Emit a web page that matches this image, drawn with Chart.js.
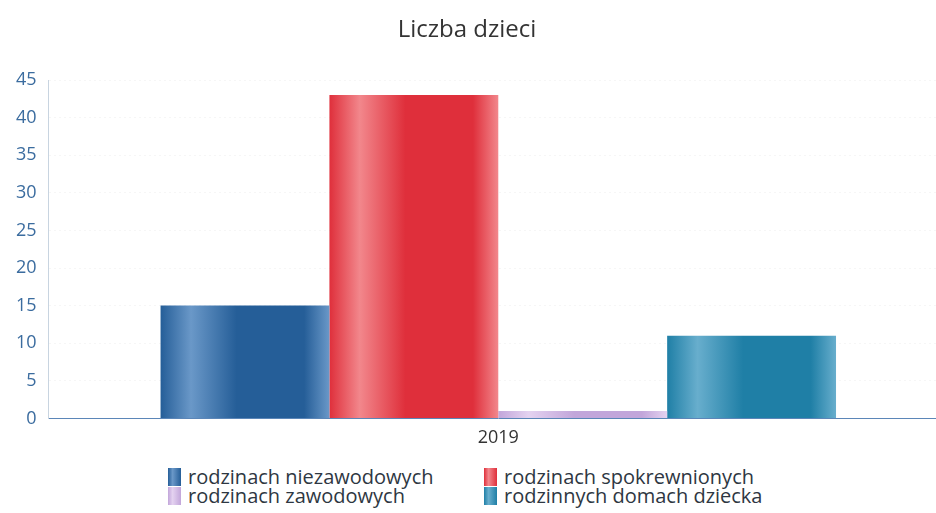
<!DOCTYPE html>
<html>
<head>
<meta charset="utf-8">
<script src="https://cdn.jsdelivr.net/npm/chart.js@4/dist/chart.umd.min.js"></script>
<style>
  body { margin: 0; background: #fff; font-family: "Open Sans", sans-serif; }
  #wrap { position: relative; width: 936px; height: 513px; overflow: hidden; }
  #chart { position: absolute; left: 0; top: 0; }
  #title {
    position: absolute; left: 367px; width: 200px; top: 11px;
    text-align: center; font-size: 24px; line-height: 34px; color: #333;
  }
  #legend {
    position: absolute; left: 168px; top: 467px;
    display: grid; grid-template-columns: 316px 300px;
    font-size: 20px; line-height: 19px; color: #2e3742;
  }
  #legend div { display: flex; align-items: center; white-space: nowrap; }
  #legend span.box { width: 13px; height: 18px; margin-right: 7px; display: inline-block; }
</style>
</head>
<body>
<div id="wrap">
  <canvas id="chart" width="948" height="452"></canvas>
  <div id="title">Liczba dzieci</div>
  <div id="legend"></div>
</div>
<script>
const categories = ["2019"];
const seriesNames = ["rodzinach niezawodowych", "rodzinach spokrewnionych", "rodzinach zawodowych", "rodzinnych domach dziecka"];
const seriesValues = [[15], [43], [1], [11]];
const seriesColors = ["#255e98", "#df2f3b", "#c2a6da", "#1f7fa6"];
const seriesLights = ["#6a98c8", "#f2878c", "#e4d2f0", "#68aecd"];
const yTicks = { min: 0, max: 45, step: 5 };

// give each bar a soft cylinder-like shading, built once positions are known
const shadePlugin = {
  id: "shade",
  beforeDatasetsDraw(chart) {
    const ctx = chart.ctx;
    chart.data.datasets.forEach((ds, i) => {
      chart.getDatasetMeta(i).data.forEach((bar) => {
        const left = bar.x - bar.width / 2;
        const g = ctx.createLinearGradient(left, 0, left + bar.width, 0);
        g.addColorStop(0, seriesColors[i]);
        g.addColorStop(0.18, seriesLights[i]);
        g.addColorStop(0.45, seriesColors[i]);
        g.addColorStop(0.85, seriesColors[i]);
        g.addColorStop(1, seriesLights[i]);
        bar.options = Object.assign({}, bar.options, { backgroundColor: g });
      });
    });
  }
};

const renderLegend = () => {
  const box = document.getElementById("legend");
  seriesNames.forEach((name, i) => {
    const el = document.createElement("div");
    el.innerHTML = `<span class="box" style="background:linear-gradient(90deg, ${seriesColors[i]}, ${seriesLights[i]} 35%, ${seriesColors[i]})"></span>${name}`;
    box.appendChild(el);
  });
};

const renderChart = () => {
  new Chart(document.getElementById("chart"), {
    type: "bar",
    data: {
      labels: categories,
      datasets: seriesNames.map((name, i) => ({
        label: name,
        data: seriesValues[i],
        backgroundColor: seriesColors[i],
        borderWidth: 0,
        barPercentage: 1,
        categoryPercentage: 0.751
      }))
    },
    options: {
      responsive: false,
      animation: false,
      layout: { padding: { left: 4, right: 0, top: 80, bottom: 2 } },
      plugins: {
        legend: { display: false },
        tooltip: { enabled: false },
        title: { display: false }
      },
      scales: {
        x: {
          grid: { display: false },
          border: { color: "#5b86b8", dash: [2, 2], width: 1 },
          ticks: { color: "#333", padding: 1, font: { family: "Open Sans", size: 18 } }
        },
        y: {
          min: yTicks.min,
          max: yTicks.max,
          ticks: { stepSize: yTicks.step, color: "#3b6c9f", padding: 12, font: { family: "Open Sans", size: 18 } },
          grid: { color: "#f6f6f6", drawTicks: false },
          border: { color: "#c8d4e0", dash: [2, 3] }
        }
      }
    },
    plugins: [shadePlugin]
  });
};

renderChart();
renderLegend();
</script>
</body>
</html>
